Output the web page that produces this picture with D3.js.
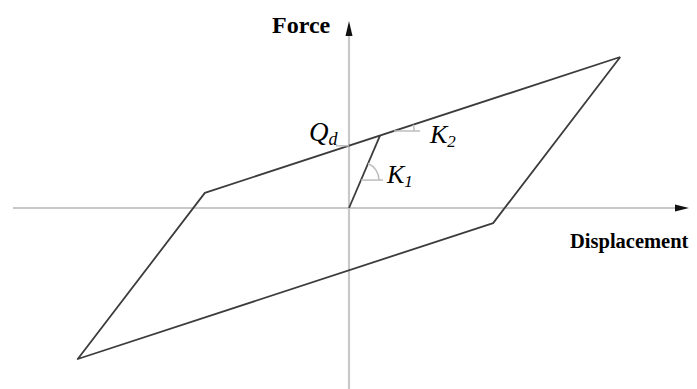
<!DOCTYPE html>
<html lang="en">
<head>
<meta charset="utf-8">
<style>
  body { margin: 0; background: #fff; }
  svg { display: block; font-family: "Liberation Serif", "Times New Roman", serif; }
</style>
<script src="https://d3js.org/d3.v7.min.js"></script>
</head>
<body>
<svg width="697" height="389"></svg>
<script>
// hysteresis loop vertices (displacement, force)
var loopDisp  = [87.5, 46.5, -87.5, -46.5, 87.5];
var loopForce = [100, -10, -100, 10, 100];
// initial loading branch: origin -> yield point
var initDisp  = [0, 10];
var initForce = [0, 47.9];
var Qd = 41.2;

var svg = d3.select("svg");

var x = d3.scaleLinear().domain([-100, 100]).range([39, 659]);
var y = d3.scaleLinear().domain([-100, 100]).range([359, 57]);

var axisColor = "#c8c8c8", lineColor = "#3c3c3c";

// axes
svg.append("line")
    .attr("x1", 13).attr("x2", 680)
    .attr("y1", y(0)).attr("y2", y(0))
    .attr("stroke", axisColor).attr("stroke-width", 2.2);
svg.append("line")
    .attr("x1", x(0)).attr("x2", x(0))
    .attr("y1", 389).attr("y2", 30)
    .attr("stroke", axisColor).attr("stroke-width", 2.2);

// arrow heads
svg.append("path")
    .attr("d", "M" + 689 + "," + y(0) + "L675," + (y(0) - 3.5) + "L675," + (y(0) + 3.5) + "Z")
    .attr("fill", "#111");
svg.append("path")
    .attr("d", "M" + x(0) + ",21L" + (x(0) - 3.5) + ",36L" + (x(0) + 3.5) + ",36Z")
    .attr("fill", "#111");

var line = d3.line()
    .x(function(d) { return x(d[0]); })
    .y(function(d) { return y(d[1]); });

svg.append("path")
    .datum(d3.zip(loopDisp, loopForce))
    .attr("d", line)
    .attr("fill", "none")
    .attr("stroke", lineColor)
    .attr("stroke-width", 1.8)
    .attr("stroke-linejoin", "round");

svg.append("path")
    .datum(d3.zip(initDisp, initForce))
    .attr("d", line)
    .attr("fill", "none")
    .attr("stroke", lineColor)
    .attr("stroke-width", 1.8);

// angle markers
var markColor = "#bdbdbd";
// Qd tick
svg.append("line")
    .attr("x1", x(0) - 13).attr("x2", x(0))
    .attr("y1", y(Qd)).attr("y2", y(Qd))
    .attr("stroke", markColor).attr("stroke-width", 1.5);

// K2 angle
var upSlope = (loopForce[4] - loopForce[3]) / (loopDisp[4] - loopDisp[3]);
var k2F = 51, k2D = loopDisp[3] + (k2F - loopForce[3]) / upSlope;
var k2x = x(k2D), k2y = y(k2F);
var a2 = Math.atan2(y(loopForce[3]) - y(loopForce[4]), x(loopDisp[4]) - x(loopDisp[3]));
svg.append("line")
    .attr("x1", k2x).attr("x2", k2x + 26)
    .attr("y1", k2y).attr("y2", k2y)
    .attr("stroke", markColor).attr("stroke-width", 1.5);
svg.append("path")
    .attr("d", d3.arc()({innerRadius: 20, outerRadius: 20, startAngle: Math.PI / 2 - a2, endAngle: Math.PI / 2}))
    .attr("transform", "translate(" + k2x + "," + k2y + ")")
    .attr("fill", "none").attr("stroke", markColor).attr("stroke-width", 1.5);

// K1 angle
var k1F = 18.5, k1D = k1F * initDisp[1] / initForce[1];
var k1x = x(k1D), k1y = y(k1F);
var a1 = Math.atan2(y(0) - y(initForce[1]), x(initDisp[1]) - x(0));
svg.append("line")
    .attr("x1", k1x).attr("x2", k1x + 22)
    .attr("y1", k1y).attr("y2", k1y)
    .attr("stroke", markColor).attr("stroke-width", 1.5);
svg.append("path")
    .attr("d", d3.arc()({innerRadius: 18, outerRadius: 18, startAngle: Math.PI / 2 - a1, endAngle: Math.PI / 2}))
    .attr("transform", "translate(" + k1x + "," + k1y + ")")
    .attr("fill", "none").attr("stroke", markColor).attr("stroke-width", 1.5);

// labels
svg.append("text")
    .attr("x", 272).attr("y", 33)
    .attr("font-weight", "bold").attr("font-size", 24)
    .text("Force");
svg.append("text")
    .attr("x", 570).attr("y", 248)
    .attr("font-weight", "bold").attr("font-size", 20.5)
    .text("Displacement");

function subLabel(px, py, main, sub, size, subSize) {
  var t = svg.append("text")
      .attr("x", px).attr("y", py)
      .attr("font-style", "italic").attr("font-size", size);
  t.append("tspan").text(main);
  t.append("tspan").attr("dy", 4).attr("font-size", subSize).text(sub);
}
subLabel(309, 141, "Q", "d", 27, 18);
subLabel(430, 143, "K", "2", 26, 17);
subLabel(387, 183, "K", "1", 26, 17);
</script>
</body>
</html>
